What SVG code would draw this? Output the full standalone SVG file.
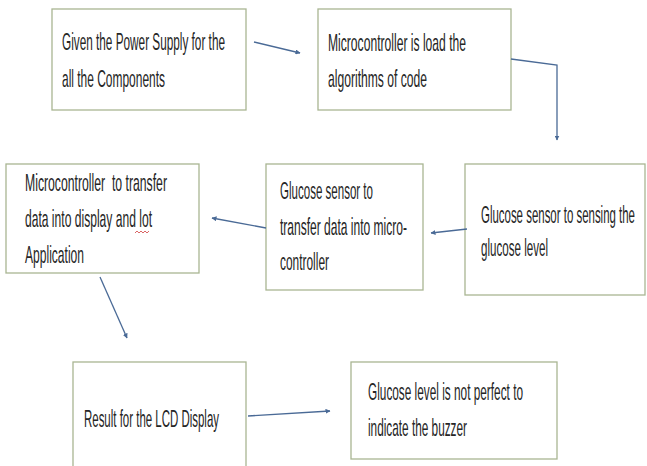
<svg xmlns="http://www.w3.org/2000/svg" width="647" height="466" viewBox="0 0 647 466">
<defs>
<style>
.box{fill:#ffffff;stroke:#a9b592;stroke-width:1.3}
.t{font-family:"Liberation Sans",Arial,sans-serif;font-size:24px;fill:#262626}
.c{fill:none;stroke:#4a6a96;stroke-width:1.3}
</style>
<marker id="ah" viewBox="0 0 10 10" refX="9" refY="5" markerWidth="5" markerHeight="5" orient="auto" markerUnits="userSpaceOnUse">
<path d="M0,0 L10,5 L0,10 z" fill="#4a6a96"/>
</marker>
</defs>
<rect width="647" height="466" fill="#ffffff"/>
<g id="n1">
<rect class="box" x="52" y="9" width="194" height="101"/>
<g transform="scale(0.5,1)">
<text class="t" x="124" y="50" textLength="326" lengthAdjust="spacingAndGlyphs">Given the Power Supply for the</text>
<text class="t" x="124" y="87" textLength="206" lengthAdjust="spacingAndGlyphs">all the Components</text>
</g>
</g>
<g id="n2">
<rect class="box" x="318" y="9" width="193" height="101"/>
<g transform="scale(0.5,1)">
<text class="t" x="656" y="51" textLength="276" lengthAdjust="spacingAndGlyphs">Microcontroller is load the</text>
<text class="t" x="656" y="87" textLength="198" lengthAdjust="spacingAndGlyphs">algorithms of code</text>
</g>
</g>
<g id="n3">
<rect class="box" x="6" y="164" width="193" height="109"/>
<g transform="scale(0.5,1)">
<text class="t" x="50" y="191" textLength="284" lengthAdjust="spacingAndGlyphs" xml:space="preserve">Microcontroller  to transfer</text>
<text class="t" x="50" y="227" textLength="254" lengthAdjust="spacingAndGlyphs">data into display and lot</text>
<text class="t" x="50" y="263" textLength="118" lengthAdjust="spacingAndGlyphs">Application</text>
</g>
<path d="M135,233 l2,-2 l2,2 l2,-2 l2,2 l2,-2 l2,2 l2,-2" fill="none" stroke="#d04040" stroke-width="0.8"/>
</g>
<g id="n4">
<rect class="box" x="266" y="164" width="157" height="126"/>
<g transform="scale(0.5,1)">
<text class="t" x="560" y="199" textLength="186" lengthAdjust="spacingAndGlyphs">Glucose sensor to</text>
<text class="t" x="560" y="235" textLength="254" lengthAdjust="spacingAndGlyphs">transfer data into micro-</text>
<text class="t" x="560" y="270" textLength="98" lengthAdjust="spacingAndGlyphs">controller</text>
</g>
</g>
<g id="n5">
<rect class="box" x="465" y="164" width="180" height="131"/>
<g transform="scale(0.5,1)">
<text class="t" x="962" y="223" textLength="308" lengthAdjust="spacingAndGlyphs">Glucose sensor to sensing the</text>
<text class="t" x="962" y="256" textLength="134" lengthAdjust="spacingAndGlyphs">glucose level</text>
</g>
</g>
<g id="n6">
<rect class="box" x="73" y="362" width="173" height="110"/>
<g transform="scale(0.5,1)">
<text class="t" x="168" y="427" textLength="270" lengthAdjust="spacingAndGlyphs">Result for the LCD Display</text>
</g>
</g>
<g id="n7">
<rect class="box" x="351" y="362" width="206" height="97"/>
<g transform="scale(0.5,1)">
<text class="t" x="736" y="400" textLength="310" lengthAdjust="spacingAndGlyphs">Glucose level is not perfect to</text>
<text class="t" x="736" y="436" textLength="198" lengthAdjust="spacingAndGlyphs">indicate the buzzer</text>
</g>
</g>
<g id="connectors">
<path class="c" d="M254,42 L300,53" marker-end="url(#ah)"/>
<path class="c" d="M511,59 L557,65 L557,140" marker-end="url(#ah)"/>
<path class="c" d="M467,229 L431,233" marker-end="url(#ah)"/>
<path class="c" d="M266,228 L212,218" marker-end="url(#ah)"/>
<path class="c" d="M100,277 L127,338" marker-end="url(#ah)"/>
<path class="c" d="M248,416 L330,411" marker-end="url(#ah)"/>
</g>
</svg>
